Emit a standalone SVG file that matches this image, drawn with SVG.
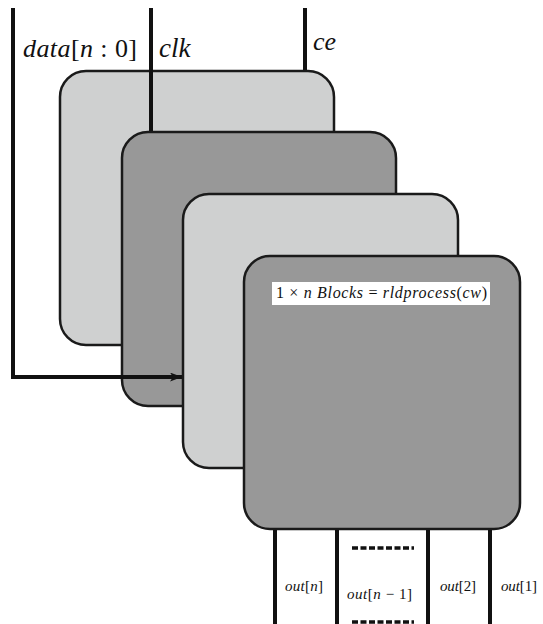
<svg xmlns="http://www.w3.org/2000/svg" width="543" height="624" viewBox="0 0 543 624">
<defs>
<style>
.box{stroke:#1a1a1a;stroke-width:2.5}
.light{fill:#cfd0d0}
.dark{fill:#989898}
.wire{stroke:#111;stroke-width:4;fill:none}
.lbl{font-family:"Liberation Serif","DejaVu Serif",serif;fill:#111}
.it{font-style:italic}
.dash{stroke:#111;stroke-width:3.5;stroke-dasharray:6,2.5}
</style>
<marker id="ah" markerWidth="12" markerHeight="9" refX="12" refY="4.5" orient="auto" markerUnits="userSpaceOnUse">
<path d="M0,0 L12,4.5 L0,9 L3,4.5 Z" fill="#111"/>
</marker>
</defs>
<rect width="543" height="624" fill="#fff"/>
<g id="connectors">
<path class="wire" d="M13,8 V377 H124"/>
<line class="wire" x1="305" y1="8" x2="305" y2="72"/>
</g>
<g id="block1">
<rect class="box light" x="60" y="71" width="274" height="274" rx="26"/>
</g>
<g id="clkwire">
<line class="wire" x1="151" y1="8" x2="151" y2="132"/>
</g>
<g id="block2">
<rect class="box dark" x="122" y="132" width="274" height="274" rx="26"/>
</g>
<g id="data-arrow">
<line stroke="#111" stroke-width="4" x1="120" y1="377" x2="182" y2="377" marker-end="url(#ah)"/>
</g>
<g id="block3">
<rect class="box light" x="183" y="194" width="275" height="274" rx="26"/>
</g>
<g id="block4">
<rect class="box dark" x="244" y="256" width="276" height="273" rx="26"/>
<rect x="272" y="282" width="218" height="23" fill="#fff"/>
<text class="lbl" x="276" y="298" font-size="16" textLength="211" lengthAdjust="spacing">1 × <tspan class="it">n Blocks</tspan> = <tspan class="it">rldprocess</tspan>(<tspan class="it">cw</tspan>)</text>
</g>
<g id="outputs">
<line class="wire" x1="275" y1="530" x2="275" y2="624"/>
<line class="wire" x1="337" y1="530" x2="337" y2="624"/>
<line class="wire" x1="428" y1="530" x2="428" y2="624"/>
<line class="wire" x1="490" y1="530" x2="490" y2="624"/>
<line class="dash" x1="352" y1="548" x2="414" y2="548"/>
<line class="dash" x1="352" y1="622" x2="414" y2="622"/>
</g>
<g id="labels">
<text class="lbl" x="23" y="57" font-size="26" textLength="114" lengthAdjust="spacing"><tspan class="it">data</tspan>[<tspan class="it">n</tspan> : 0]</text>
<text class="lbl it" x="159" y="57" font-size="27">clk</text>
<text class="lbl it" x="313" y="50" font-size="26">ce</text>
<text class="lbl" x="285" y="591" font-size="15" textLength="38" lengthAdjust="spacing"><tspan class="it">out</tspan>[<tspan class="it">n</tspan>]</text>
<text class="lbl" x="347" y="599" font-size="15" textLength="65" lengthAdjust="spacing"><tspan class="it">out</tspan>[<tspan class="it">n</tspan> − 1]</text>
<text class="lbl" x="440" y="591" font-size="15" textLength="36" lengthAdjust="spacing"><tspan class="it">out</tspan>[2]</text>
<text class="lbl" x="501" y="591" font-size="15" textLength="36" lengthAdjust="spacing"><tspan class="it">out</tspan>[1]</text>
</g>
</svg>
